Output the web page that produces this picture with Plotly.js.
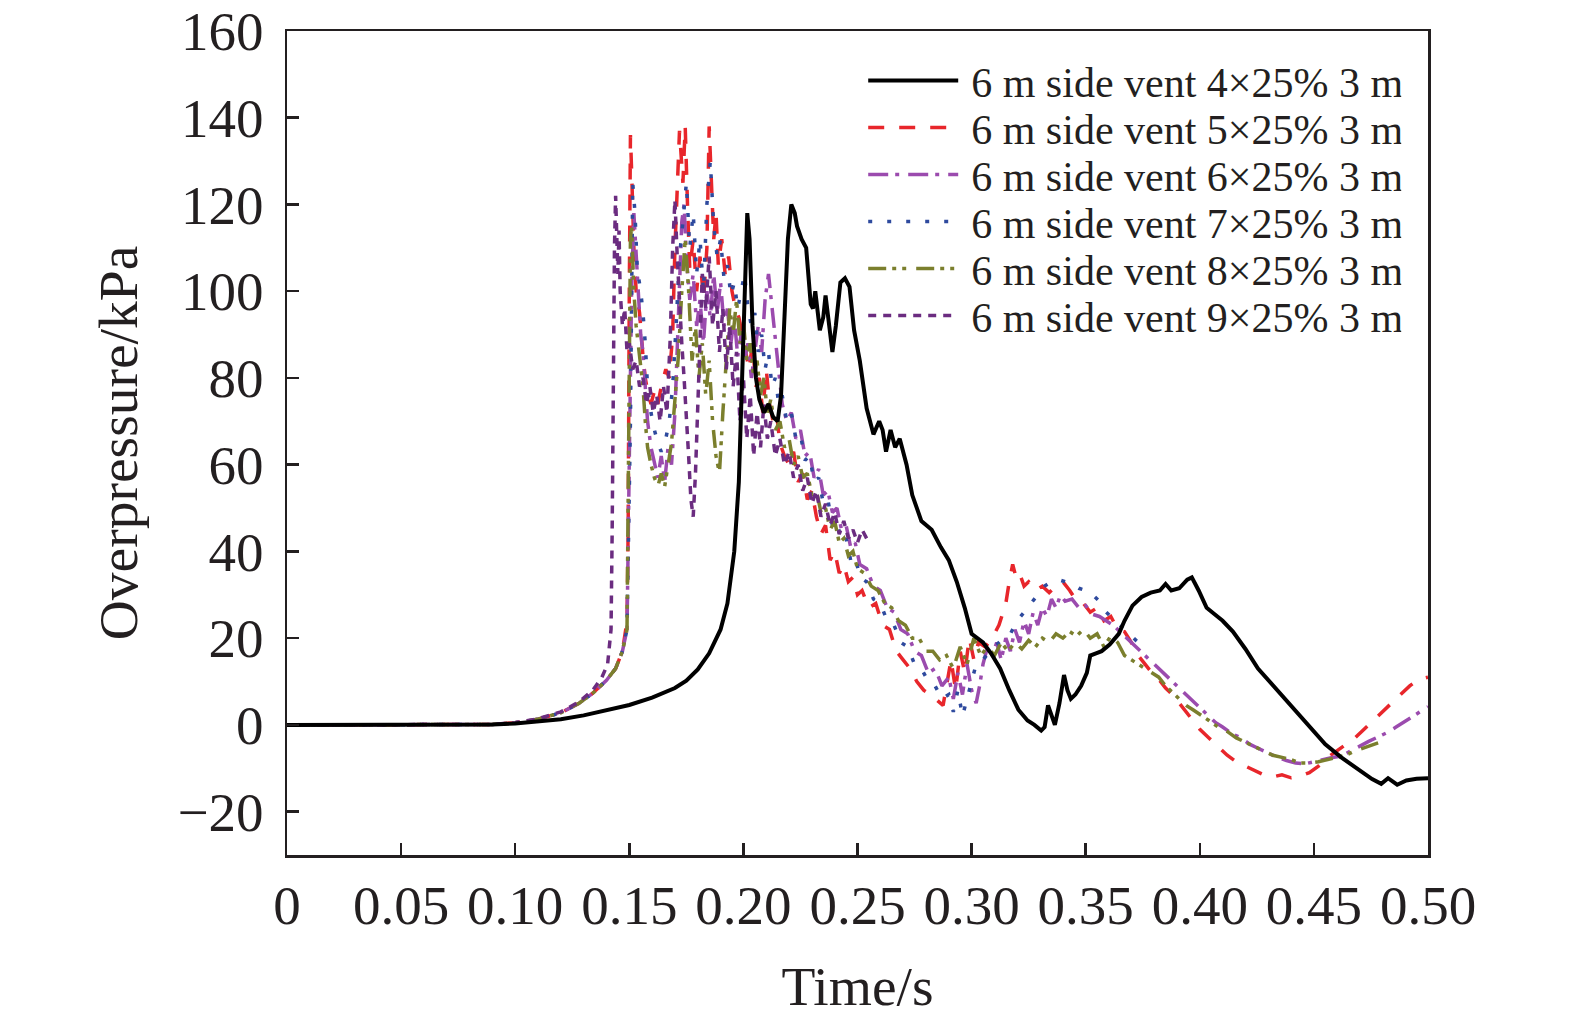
<!DOCTYPE html>
<html>
<head>
<meta charset="utf-8">
<script src="https://cdn.plot.ly/plotly-3.0.1.min.js"></script>
<style>
html,body{margin:0;padding:0;background:#fff;}
#chart{width:1575px;height:1024px;}
</style>
</head>
<body>
<div id="chart"></div>
<script>
// ---------- data ----------
const seriesNames = [
  "6 m side vent 4\u00d725% 3 m",
  "6 m side vent 5\u00d725% 3 m",
  "6 m side vent 6\u00d725% 3 m",
  "6 m side vent 7\u00d725% 3 m",
  "6 m side vent 8\u00d725% 3 m",
  "6 m side vent 9\u00d725% 3 m"
];

const xTickVals = [0,0.05,0.10,0.15,0.20,0.25,0.30,0.35,0.40,0.45,0.50];
const xTickText = ["0","0.05","0.10","0.15","0.20","0.25","0.30","0.35","0.40","0.45","0.50"];
const yTickVals = [-20,0,20,40,60,80,100,120,140,160];

// 4x25% (black solid)
const t4 = [0,0.05,0.09,0.10,0.11,0.12,0.13,0.14,0.15,0.16,0.17,0.175,0.18,0.185,0.19,0.193,0.196,0.198,0.1995,0.2008,0.2017,0.2027,0.2040,0.2055,0.207,0.209,0.211,0.213,0.215,0.2165,0.218,0.2195,0.221,0.2225,0.2235,0.2255,0.2275,0.2295,0.2305,0.2315,0.2335,0.235,0.236,0.2375,0.239,0.2405,0.2425,0.2445,0.2465,0.2485,0.251,0.254,0.257,0.2595,0.261,0.2625,0.2645,0.2665,0.2685,0.2715,0.274,0.278,0.2825,0.2865,0.29,0.2935,0.297,0.3,0.3025,0.305,0.3085,0.3125,0.3165,0.3205,0.3245,0.3275,0.3305,0.332,0.3335,0.335,0.3365,0.3385,0.3405,0.342,0.3435,0.3455,0.348,0.3505,0.352,0.3545,0.357,0.3605,0.3645,0.367,0.3705,0.3745,0.3785,0.3825,0.385,0.3875,0.391,0.3945,0.3965,0.3995,0.403,0.4065,0.41,0.4145,0.42,0.4255,0.4315,0.4375,0.443,0.449,0.455,0.462,0.469,0.4755,0.4795,0.4825,0.4865,0.4905,0.495,0.5];
const p4 = [0,0,0.1,0.3,0.7,1.3,2.2,3.3,4.6,6.3,8.5,10.2,12.8,16.5,22,28,40,56,80,105,118,112,92,80,75,72,74,71,70,76,95,112,120,118,115,112,110,97,96,100,91,94,99,93,86,92,102,103,101,91,84,73,67,70,68,63,68,64,66,60,53,47,45,41,38,33,27,21,20,19,16.5,13,8,3.5,1,0,-1.3,-0.5,4.5,2,0,5,11.5,8,6,7,9,12,16,16.5,17,18.5,21,24,27.5,29.5,30.5,31,32.5,31,31.5,33.5,34,31,27,25.5,24,21.5,17.5,13,9.5,6,2.5,-1,-4.5,-7.5,-10,-12.5,-13.6,-12.3,-13.8,-12.8,-12.4,-12.3];

// 5x25% (red dashed)
const t5 = [0,0.09,0.10,0.11,0.12,0.128,0.134,0.14,0.144,0.147,0.149,0.1495,0.150,0.1505,0.151,0.152,0.153,0.1545,0.156,0.157,0.158,0.1595,0.161,0.1625,0.164,0.166,0.1675,0.169,0.170,0.171,0.172,0.1735,0.1745,0.1755,0.1765,0.178,0.1795,0.181,0.1825,0.184,0.185,0.186,0.187,0.188,0.189,0.1905,0.192,0.1935,0.195,0.1965,0.198,0.1995,0.201,0.2025,0.204,0.2055,0.207,0.2085,0.210,0.2115,0.213,0.2145,0.216,0.218,0.220,0.222,0.224,0.226,0.228,0.230,0.232,0.234,0.236,0.238,0.240,0.242,0.244,0.246,0.248,0.250,0.252,0.255,0.258,0.261,0.264,0.267,0.270,0.273,0.276,0.279,0.282,0.285,0.2875,0.289,0.291,0.293,0.295,0.297,0.299,0.301,0.303,0.306,0.309,0.312,0.315,0.3165,0.318,0.3195,0.321,0.323,0.325,0.328,0.331,0.334,0.337,0.340,0.343,0.346,0.349,0.352,0.355,0.358,0.361,0.364,0.367,0.370,0.373,0.376,0.379,0.382,0.385,0.388,0.391,0.394,0.397,0.400,0.404,0.408,0.412,0.416,0.420,0.424,0.428,0.432,0.436,0.440,0.444,0.448,0.452,0.456,0.460,0.464,0.468,0.472,0.476,0.480,0.484,0.488,0.492,0.496,0.500];
const p5 = [0,0.1,0.5,1.3,2.8,5,7.3,10.3,13,17,24,45,100,136,128,110,100,95,85,80,77,74,77,74,78,82,80,90,110,123,137,125,138,120,105,112,100,108,98,110,138,125,112,118,106,112,104,108,100,96,94,90,86,82,88,78,80,72,82,74,70,72,65,62,60,63,56,58,52,54,48,44,46,38,40,35,37,33,34,30,31,27,28,23,22,17,15,13,10,8,7,5.5,4.5,9,15,8,17,12,20,15,19,18,20,23,28,33,37,34,35,32,33,31,32,30.5,32,33,31,28.5,28,26,27,24,25,22,21.5,19,16,14,12,10.5,8.5,7,5,3,1,-1,-3,-5,-7,-8.5,-9.5,-10.5,-11.5,-12,-11.5,-12.2,-11.8,-11,-9.5,-7.5,-6,-4.5,-3,-1,1,3,5,7,9,10.5,11];

// 6x25% (violet dash-dot)
const t6 = [0,0.09,0.10,0.11,0.12,0.128,0.134,0.14,0.144,0.147,0.149,0.150,0.151,0.152,0.153,0.154,0.155,0.156,0.157,0.158,0.1595,0.161,0.1625,0.164,0.1655,0.167,0.1685,0.170,0.171,0.172,0.173,0.174,0.175,0.1765,0.178,0.1795,0.181,0.1825,0.184,0.1855,0.187,0.1885,0.190,0.1915,0.193,0.1945,0.196,0.1975,0.199,0.2005,0.202,0.2035,0.205,0.2065,0.208,0.2095,0.211,0.2125,0.214,0.2155,0.217,0.219,0.221,0.223,0.225,0.227,0.229,0.231,0.233,0.235,0.237,0.239,0.241,0.243,0.245,0.247,0.249,0.251,0.254,0.257,0.260,0.263,0.266,0.269,0.272,0.275,0.278,0.281,0.284,0.287,0.290,0.292,0.294,0.296,0.298,0.300,0.302,0.3035,0.305,0.307,0.309,0.311,0.313,0.315,0.317,0.319,0.321,0.323,0.325,0.327,0.329,0.331,0.333,0.335,0.337,0.339,0.341,0.344,0.347,0.350,0.353,0.356,0.359,0.362,0.365,0.368,0.371,0.374,0.377,0.380,0.383,0.386,0.389,0.392,0.395,0.398,0.401,0.404,0.407,0.410,0.414,0.418,0.422,0.426,0.430,0.434,0.438,0.442,0.446,0.450,0.454,0.458,0.462,0.466,0.470,0.474,0.478,0.482,0.486,0.490,0.494,0.498,0.500];
const p6 = [0,0.1,0.5,1.3,2.8,5,7.3,10.3,13,17,22,55,100,118,108,98,90,86,78,70,64,60,57,62,56,64,60,72,88,105,116,120,108,98,104,92,98,88,100,94,104,95,102,92,96,88,94,85,90,84,88,80,86,92,86,98,104,96,90,80,74,70,72,66,68,62,63,57,59,53,54,49,50,45,46,41,42,37,36,32,31,27,26,22,21,17,16,12,13,9,11,6,12,7,14,8,5,9,14,18,16,19,15,20,17,22,19,24,21,26,23,27,25,29,27,30,28.5,29,27,27.5,25.5,25,24,23,21.5,20,18.5,17,15.5,14,12.5,11,9.5,8,6.5,5,3.5,2,0.5,-0.5,-2,-3,-4.5,-5.5,-6.5,-7.5,-8.2,-8.8,-9,-8.5,-7.8,-7.5,-7.2,-6,-5,-3.8,-2.8,-1.8,-0.5,0.8,2.2,3.6,4.2];

// 7x25% (blue dotted)
const t7 = [0,0.09,0.10,0.11,0.12,0.128,0.134,0.14,0.144,0.147,0.149,0.1505,0.1515,0.1525,0.1535,0.155,0.156,0.157,0.158,0.1595,0.161,0.1625,0.164,0.166,0.1675,0.169,0.1705,0.172,0.1735,0.175,0.1765,0.178,0.1795,0.181,0.1825,0.184,0.1855,0.187,0.1885,0.190,0.1915,0.193,0.1945,0.196,0.1975,0.199,0.2005,0.202,0.2035,0.205,0.2065,0.208,0.2095,0.211,0.2125,0.214,0.2155,0.217,0.219,0.221,0.223,0.225,0.227,0.229,0.231,0.233,0.235,0.237,0.239,0.241,0.243,0.245,0.247,0.249,0.251,0.254,0.257,0.260,0.263,0.266,0.269,0.272,0.275,0.278,0.281,0.284,0.287,0.290,0.292,0.294,0.296,0.298,0.300,0.302,0.305,0.308,0.311,0.314,0.317,0.320,0.323,0.326,0.329,0.332,0.335,0.338,0.341,0.344,0.347,0.350,0.353,0.356,0.359,0.362,0.365,0.368,0.371,0.374,0.377];
const p7 = [0,0.1,0.5,1.3,2.8,5,7.3,10.3,13,17,22,70,125,118,105,100,95,88,78,72,68,65,63,66,70,78,92,108,116,125,110,118,104,112,100,120,130,115,108,112,103,106,99,102,96,100,104,96,92,95,86,90,82,86,78,80,74,76,70,72,66,67,61,62,56,57,51,52,46,47,42,43,38,39,34,33,29,28,24,23,19,18,14,13,10,9,6,7,3,8,2,6,10,14,15,17,18.5,20,21,24,26,28,30,32,33,33.5,33,32.5,31.5,31,30,28.5,26,24.5,23,21.5,20,18.5,17];

// 8x25% (olive dash-dot-dot)
const t8 = [0,0.09,0.10,0.11,0.12,0.128,0.134,0.14,0.144,0.147,0.149,0.150,0.1505,0.151,0.152,0.153,0.1545,0.156,0.157,0.158,0.1595,0.161,0.1625,0.164,0.1655,0.167,0.1685,0.170,0.1715,0.173,0.1745,0.176,0.1775,0.179,0.1805,0.182,0.1835,0.185,0.1865,0.188,0.1895,0.191,0.1925,0.194,0.1955,0.197,0.1985,0.200,0.2015,0.203,0.2045,0.206,0.2075,0.209,0.2105,0.212,0.214,0.216,0.218,0.220,0.222,0.224,0.226,0.228,0.230,0.232,0.234,0.236,0.238,0.240,0.242,0.244,0.246,0.248,0.250,0.253,0.256,0.259,0.262,0.265,0.268,0.271,0.274,0.277,0.280,0.283,0.286,0.289,0.292,0.295,0.298,0.301,0.304,0.307,0.310,0.313,0.316,0.319,0.322,0.325,0.328,0.331,0.334,0.337,0.340,0.343,0.346,0.349,0.352,0.355,0.358,0.361,0.364,0.367,0.370,0.373,0.376,0.379,0.382,0.385,0.388,0.391,0.394,0.397,0.400,0.404,0.408,0.412,0.416,0.420,0.424,0.428,0.432,0.436,0.440,0.444,0.448,0.452,0.456,0.460,0.464,0.468,0.472,0.476,0.479];
const p8 = [0,0.1,0.5,1.3,2.8,5,7.3,10.3,13,17,22,70,112,115,100,92,85,78,70,64,60,57,55,58,55,60,65,75,85,100,112,100,84,92,80,88,76,84,70,62,58,72,85,96,90,98,88,93,84,88,80,84,76,80,72,75,68,70,64,66,60,62,57,58,53,54,49,50,45,47,42,43,39,40,36,35,32,31,28,27,24,23,20,20,17,17,15,16,13,18,14,20,16,18,16,19,17,19,17.5,19.5,18,20,19,21,20,21.5,20.5,22,20,21,18,20.5,19,16,15,14,13,12,11,9,7.5,6,4.5,3.5,2.5,1,-0.5,-1.5,-3,-4,-5,-6,-7,-7.5,-8,-8.8,-8.8,-8.5,-8,-7.5,-7,-6,-5.2,-4.5,-4];

// 9x25% (dark purple short dash)
const t9 = [0,0.09,0.10,0.11,0.12,0.128,0.134,0.138,0.1405,0.142,0.1425,0.143,0.1435,0.144,0.1445,0.145,0.1455,0.146,0.147,0.148,0.149,0.150,0.1515,0.153,0.1545,0.156,0.1575,0.159,0.1605,0.162,0.1635,0.165,0.1665,0.168,0.169,0.170,0.171,0.172,0.173,0.174,0.175,0.176,0.177,0.178,0.179,0.180,0.181,0.182,0.1835,0.185,0.1865,0.188,0.1895,0.191,0.1925,0.194,0.1955,0.197,0.1985,0.200,0.2015,0.203,0.2045,0.206,0.2075,0.209,0.2105,0.212,0.214,0.216,0.218,0.220,0.222,0.224,0.226,0.228,0.230,0.232,0.234,0.236,0.238,0.240,0.242,0.244,0.246,0.248,0.250,0.252,0.254];
const p9 = [0,0.1,0.5,1.4,3,5.3,8,11,14,22,45,80,110,122,112,104,114,100,92,96,86,88,82,84,78,80,74,78,72,76,70,78,72,90,110,121,108,96,88,80,72,62,52,48,58,75,90,104,96,108,92,100,86,96,82,92,78,86,70,80,66,76,62,72,64,74,66,70,62,66,60,63,57,60,54,57,51,54,48,51,46,49,44,47,43,45,42,45,43];

// ---------- styling ----------
const serif = "'Liberation Serif', 'Times New Roman', Times, serif";
const txt = "#231f20";

const traces = [
  {x:t5, y:p5, name:seriesNames[1], legendrank:2, line:{color:"#e8262b", width:3.5, dash:"16px,15px"}},
  {x:t6, y:p6, name:seriesNames[2], legendrank:3, line:{color:"#9b4bae", width:3.5, dash:"20px,7px,4px,9px"}},
  {x:t7, y:p7, name:seriesNames[3], legendrank:4, line:{color:"#2e4a9e", width:3.5, dash:"4px,15px"}},
  {x:t8, y:p8, name:seriesNames[4], legendrank:5, line:{color:"#7b7f2d", width:3.5, dash:"18px,6px,4px,6px,4px,10px"}},
  {x:t9, y:p9, name:seriesNames[5], legendrank:6, line:{color:"#6b2c80", width:3.5, dash:"8px,7px"}},
  {x:t4, y:p4, name:seriesNames[0], legendrank:1, line:{color:"#000000", width:4}}
].map(tr => Object.assign({type:"scatter", mode:"lines", hoverinfo:"skip"}, tr));

const axisCommon = {
  showline:true, linecolor:"#231f20", linewidth:2.5, mirror:true,
  showgrid:false, zeroline:false,
  ticks:"inside", ticklen:12, tickwidth:2.5, tickcolor:"#231f20",
  tickfont:{family:serif, size:55, color:txt}
};

const layout = {
  width:1575, height:1024,
  margin:{l:287, r:147, t:31, b:169},
  paper_bgcolor:"#ffffff", plot_bgcolor:"#ffffff",
  showlegend:true,
  legend:{
    x:0.505, y:0.981, xanchor:"left", yanchor:"top",
    bgcolor:"rgba(0,0,0,0)", borderwidth:0,
    font:{family:serif, size:42, color:txt},
    itemwidth:90, traceorder:"normal"
  },
  xaxis: Object.assign({}, axisCommon, {
    range:[0,0.5], tickmode:"array", tickvals:xTickVals, ticktext:xTickText,
    ticklabelstandoff:0,
    title:{text:"Time/s", font:{family:serif, size:55.5, color:txt}, standoff:32}
  }),
  yaxis: Object.assign({}, axisCommon, {
    range:[-30,160], tickmode:"array", tickvals:yTickVals,
    ticklabelstandoff:10,
    title:{text:"Overpressure/kPa", font:{family:serif, size:55.5, color:txt}, standoff:22}
  })
};

Plotly.newPlot("chart", traces, layout, {displayModeBar:false, staticPlot:true}).then(function(gd){
  // tighten legend row spacing and text gap to match the reference
  const items = gd.querySelectorAll(".legend .traces");
  if (items.length) {
    const m = /translate\(\s*([-\d.]+)[ ,]+([-\d.]+)\s*\)/.exec(items[0].getAttribute("transform") || "");
    if (m) {
      const x0 = parseFloat(m[1]), y0 = parseFloat(m[2]);
      items.forEach(function(el, i){
        el.setAttribute("transform", "translate(" + x0 + "," + (y0 + i*47) + ")");
        const t = el.querySelector(".legendtext");
        if (t) {
          const tx = parseFloat(t.getAttribute("x") || "0");
          t.setAttribute("x", tx + 8);
        }
      });
    }
  }
});
</script>
</body>
</html>
